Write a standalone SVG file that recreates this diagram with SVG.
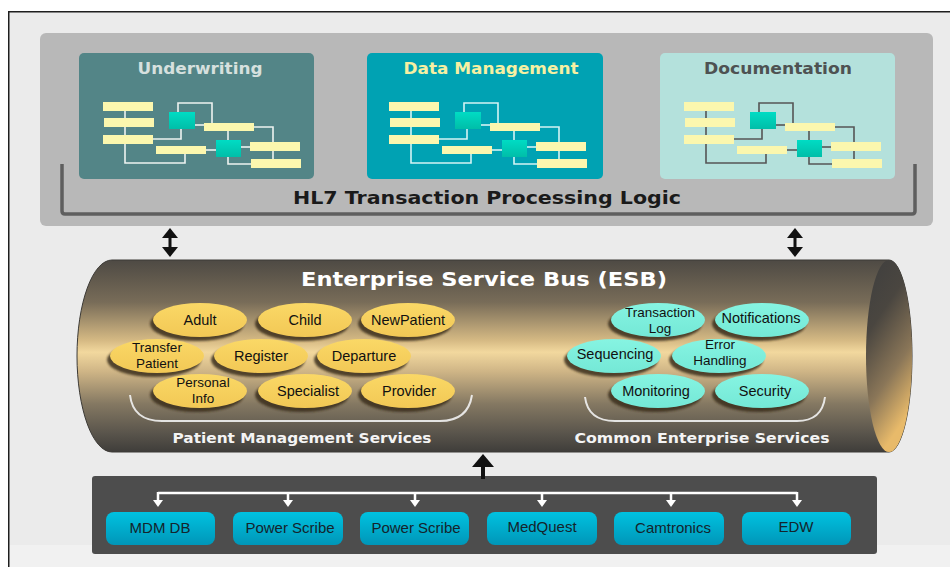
<svg xmlns="http://www.w3.org/2000/svg" xmlns:xlink="http://www.w3.org/1999/xlink" width="950" height="567" viewBox="0 0 950 567">
  <style>
    .title { font-family: "DejaVu Sans", "Liberation Sans", sans-serif; font-weight: bold; text-anchor: middle; }
    .lbl { font-family: "Liberation Sans", Arial, sans-serif; font-size: 14.5px; fill: #111; text-anchor: middle; }
    .lbl2 { font-family: "Liberation Sans", Arial, sans-serif; font-size: 13.5px; fill: #111; text-anchor: middle; }
    .btn-lbl { font-family: "Liberation Sans", Arial, sans-serif; font-size: 15px; fill: #14242c; text-anchor: middle; }
    .bar { fill: #fbf7ae; stroke: none; }
    .sq { fill: url(#sqGrad); stroke: none; }
    .gold { fill: url(#goldGrad); }
    .aqua { fill: url(#aquaGrad); }
    .shadow { fill: #3a2e1c; opacity: 0.85; filter: url(#soft); }
    .btn { fill: url(#btnGrad); }
    .brace { fill: none; stroke: #f2f2f2; stroke-width: 2; opacity: 0.9; }
    .tree { fill: none; stroke: #ffffff; stroke-width: 2.5; }
  </style>
  <defs>
    <linearGradient id="bodyGrad" x1="0" y1="260" x2="0" y2="452" gradientUnits="userSpaceOnUse">
      <stop offset="0" stop-color="#4e4a44"/>
      <stop offset="0.22" stop-color="#786c58"/>
      <stop offset="0.42" stop-color="#d6ba84"/>
      <stop offset="0.48" stop-color="#f2d89e"/>
      <stop offset="0.58" stop-color="#cfb586"/>
      <stop offset="0.75" stop-color="#847862"/>
      <stop offset="0.9" stop-color="#5a554c"/>
      <stop offset="1" stop-color="#3f3d3a"/>
    </linearGradient>
    <linearGradient id="capGrad" x1="0" y1="0" x2="0.35" y2="1">
      <stop offset="0" stop-color="#3e3e3e"/>
      <stop offset="0.35" stop-color="#4a4640"/>
      <stop offset="0.7" stop-color="#8a7658"/>
      <stop offset="1" stop-color="#e8ba6a"/>
    </linearGradient>
    <linearGradient id="goldGrad" x1="0" y1="0" x2="0" y2="1">
      <stop offset="0" stop-color="#fad866"/>
      <stop offset="1" stop-color="#f2c855"/>
    </linearGradient>
    <linearGradient id="aquaGrad" x1="0" y1="0" x2="0" y2="1">
      <stop offset="0" stop-color="#86f4e2"/>
      <stop offset="1" stop-color="#74e8d6"/>
    </linearGradient>
    <linearGradient id="sqGrad" x1="0" y1="0" x2="0" y2="1">
      <stop offset="0" stop-color="#00dcc4"/>
      <stop offset="1" stop-color="#00bea8"/>
    </linearGradient>
    <linearGradient id="btnGrad" x1="0" y1="0" x2="0" y2="1">
      <stop offset="0" stop-color="#00c2e0"/>
      <stop offset="1" stop-color="#0096b8"/>
    </linearGradient>
    <filter id="soft" x="-10%" y="-20%" width="120%" height="140%">
      <feGaussianBlur stdDeviation="1.2"/>
    </filter>
    <!-- small flow chart used inside each top box; line colour comes from the <use> -->
    <g id="flow">
      <g fill="none" stroke-width="1.6">
        <path d="M125,106 V163 H185 V154"/>
        <path d="M153,139 H181 V129"/>
        <path d="M178,112 V103 H212 V123"/>
        <path d="M195,125 H204"/>
        <path d="M228,131 V140"/>
        <path d="M254,127 H273 V164"/>
        <path d="M228,157 V164 H251"/>
        <path d="M206,150 H216"/>
        <path d="M241,147 H250"/>
      </g>
      <rect class="bar" x="103" y="102" width="50" height="9"/>
      <rect class="bar" x="104" y="118" width="50" height="9"/>
      <rect class="bar" x="103" y="135" width="50" height="9"/>
      <rect class="bar" x="156" y="146" width="50" height="8"/>
      <rect class="bar" x="204" y="123" width="50" height="8"/>
      <rect class="bar" x="250" y="142" width="50" height="9"/>
      <rect class="bar" x="251" y="159" width="50" height="9"/>
      <rect class="sq" x="169" y="112" width="26" height="17"/>
      <rect class="sq" x="216" y="140" width="25" height="17"/>
    </g>
  </defs>

  <!-- page and frame -->
  <rect x="0" y="0" width="950" height="567" fill="#ffffff"/>
  <rect x="8" y="11" width="942" height="556" fill="#ebebeb"/>
  <rect x="8" y="545" width="942" height="22" fill="#f1f1f1"/>
  <path d="M8.75,567 V11.75 H950" fill="none" stroke="#1e1e1e" stroke-width="1.5"/>

  <!-- HL7 transaction processing layer -->
  <g id="hl7-layer">
    <rect x="40" y="33" width="893" height="193" rx="6" fill="#b8b8b8"/>
    <path d="M62,164 V211 Q62,214 65,214 H912 Q915,214 915,211 V164" fill="none" stroke="#5e5e5e" stroke-width="3.5"/>
    <text class="title" x="487" y="204" font-size="18" fill="#1a1a1a" textLength="388" lengthAdjust="spacingAndGlyphs">HL7 Transaction Processing Logic</text>
  </g>

  <g id="underwriting">
    <rect x="79" y="53" width="235" height="126" rx="5" fill="#538587"/>
    <text class="title" x="200" y="74" font-size="15.5" fill="#d6e0de" textLength="125" lengthAdjust="spacingAndGlyphs">Underwriting</text>
    <use xlink:href="#flow" stroke="#eef3f1"/>
  </g>

  <g id="data-management">
    <rect x="367" y="53" width="236" height="126" rx="5" fill="#00a2b3"/>
    <text class="title" x="491" y="74" font-size="15.5" fill="#f6f0a2" textLength="175" lengthAdjust="spacingAndGlyphs">Data Management</text>
    <use xlink:href="#flow" transform="translate(286,0)" stroke="#d4f4f4"/>
  </g>

  <g id="documentation">
    <rect x="660" y="53" width="235" height="126" rx="5" fill="#b4e1dc"/>
    <text class="title" x="778" y="74" font-size="15.5" fill="#4e5252" textLength="148" lengthAdjust="spacingAndGlyphs">Documentation</text>
    <use xlink:href="#flow" transform="translate(581,0)" stroke="#555555"/>
  </g>

  <!-- enterprise service bus -->
  <g id="esb">
    <path d="M112,260 H889 A23,96 0 0 1 889,452 H112 A35,96 0 0 1 112,260 Z" fill="url(#bodyGrad)" stroke="#3c3a36" stroke-width="1"/>
    <ellipse cx="889" cy="356" rx="23" ry="96" fill="url(#capGrad)"/>
    <text class="title" x="484" y="286" font-size="19.5" fill="#ffffff" textLength="366" lengthAdjust="spacingAndGlyphs">Enterprise Service Bus (ESB)</text>
  </g>

  <!-- patient management services -->
  <g id="patient-services">
    <g id="svc-adult"><ellipse class="shadow" cx="197" cy="324" rx="47" ry="17"/><ellipse class="gold" cx="200" cy="320" rx="47" ry="17"/><text class="lbl" x="200" y="325">Adult</text></g>
    <g id="svc-child"><ellipse class="shadow" cx="302" cy="324" rx="47" ry="17"/><ellipse class="gold" cx="305" cy="320" rx="47" ry="17"/><text class="lbl" x="305" y="325">Child</text></g>
    <g id="svc-newpatient"><ellipse class="shadow" cx="405" cy="324" rx="47" ry="17"/><ellipse class="gold" cx="408" cy="320" rx="47" ry="17"/><text class="lbl" x="408" y="325">NewPatient</text></g>
    <g id="svc-transfer"><ellipse class="shadow" cx="154" cy="360" rx="47" ry="17"/><ellipse class="gold" cx="157" cy="356" rx="47" ry="17"/><text class="lbl2" x="157" y="352">Transfer</text><text class="lbl2" x="157" y="367.5">Patient</text></g>
    <g id="svc-register"><ellipse class="shadow" cx="258" cy="360" rx="47" ry="17"/><ellipse class="gold" cx="261" cy="356" rx="47" ry="17"/><text class="lbl" x="261" y="361">Register</text></g>
    <g id="svc-departure"><ellipse class="shadow" cx="361" cy="360" rx="47" ry="17"/><ellipse class="gold" cx="364" cy="356" rx="47" ry="17"/><text class="lbl" x="364" y="361">Departure</text></g>
    <g id="svc-personal"><ellipse class="shadow" cx="197" cy="395" rx="47" ry="17"/><ellipse class="gold" cx="200" cy="391" rx="47" ry="17"/><text class="lbl2" x="203" y="387">Personal</text><text class="lbl2" x="203" y="402.5">Info</text></g>
    <g id="svc-specialist"><ellipse class="shadow" cx="302" cy="395" rx="47" ry="17"/><ellipse class="gold" cx="305" cy="391" rx="47" ry="17"/><text class="lbl" x="308" y="396">Specialist</text></g>
    <g id="svc-provider"><ellipse class="shadow" cx="405" cy="395" rx="47" ry="17"/><ellipse class="gold" cx="408" cy="391" rx="47" ry="17"/><text class="lbl" x="409" y="396">Provider</text></g>
    <path class="brace" d="M130,395 Q133,421 162,421 H440 Q468,421 472,395"/>
    <text class="title" x="302" y="443" font-size="14" fill="#f4f4f4" textLength="259" lengthAdjust="spacingAndGlyphs">Patient Management Services</text>
  </g>

  <!-- common enterprise services -->
  <g id="common-services">
    <g id="svc-txlog"><ellipse class="shadow" cx="655" cy="324" rx="47" ry="17"/><ellipse class="aqua" cx="658" cy="320" rx="47" ry="17"/><text class="lbl2" x="660" y="317">Transaction</text><text class="lbl2" x="660" y="332.5">Log</text></g>
    <g id="svc-notifications"><ellipse class="shadow" cx="759" cy="324" rx="47" ry="17"/><ellipse class="aqua" cx="762" cy="320" rx="47" ry="17"/><text class="lbl" x="761" y="323">Notifications</text></g>
    <g id="svc-sequencing"><ellipse class="shadow" cx="611" cy="360" rx="47" ry="17"/><ellipse class="aqua" cx="614" cy="356" rx="47" ry="17"/><text class="lbl" x="615" y="359">Sequencing</text></g>
    <g id="svc-error"><ellipse class="shadow" cx="716" cy="360" rx="47" ry="17"/><ellipse class="aqua" cx="719" cy="356" rx="47" ry="17"/><text class="lbl2" x="720" y="349">Error</text><text class="lbl2" x="720" y="364.5">Handling</text></g>
    <g id="svc-monitoring"><ellipse class="shadow" cx="655" cy="395" rx="47" ry="17"/><ellipse class="aqua" cx="658" cy="391" rx="47" ry="17"/><text class="lbl" x="656" y="396">Monitoring</text></g>
    <g id="svc-security"><ellipse class="shadow" cx="759" cy="395" rx="47" ry="17"/><ellipse class="aqua" cx="762" cy="391" rx="47" ry="17"/><text class="lbl" x="765" y="396">Security</text></g>
    <path class="brace" d="M585,397 Q588,421 615,421 H797 Q822,421 825,397"/>
    <text class="title" x="702" y="443" font-size="14" fill="#f4f4f4" textLength="255" lengthAdjust="spacingAndGlyphs">Common Enterprise Services</text>
  </g>

  <!-- data sources -->
  <g id="sources">
    <rect x="92" y="476" width="785" height="78" rx="3" fill="#4d4d4d"/>
  </g>
  <g id="src-mdm"><rect class="btn" x="106" y="512" width="109" height="33" rx="8"/><text class="btn-lbl" x="160" y="533">MDM DB</text></g>
  <g id="src-powerscribe-1"><rect class="btn" x="233" y="512" width="110" height="33" rx="8"/><text class="btn-lbl" x="290" y="533">Power Scribe</text></g>
  <g id="src-powerscribe-2"><rect class="btn" x="360" y="512" width="109" height="33" rx="8"/><text class="btn-lbl" x="416" y="533">Power Scribe</text></g>
  <g id="src-medquest"><rect class="btn" x="487" y="512" width="110" height="33" rx="8"/><text class="btn-lbl" x="542" y="532">MedQuest</text></g>
  <g id="src-camtronics"><rect class="btn" x="614" y="512" width="110" height="33" rx="8"/><text class="btn-lbl" x="673" y="533">Camtronics</text></g>
  <g id="src-edw"><rect class="btn" x="742" y="512" width="109" height="33" rx="8"/><text class="btn-lbl" x="796" y="532">EDW</text></g>

  <!-- connectors -->
  <g id="connectors">
    <path class="tree" d="M158,493 H797 M158,492 V502 M288,492 V502 M415,492 V502 M542,492 V502 M671,492 V502 M797,492 V502"/>
    <g fill="#ffffff">
      <polygon points="153,500 163,500 158,507"/>
      <polygon points="283,500 293,500 288,507"/>
      <polygon points="410,500 420,500 415,507"/>
      <polygon points="537,500 547,500 542,507"/>
      <polygon points="666,500 676,500 671,507"/>
      <polygon points="792,500 802,500 797,507"/>
    </g>
    <g fill="#111111">
      <rect x="168.5" y="235" width="3" height="15"/>
      <polygon points="162,238 170,228 178,238"/>
      <polygon points="162,247 170,257 178,247"/>
      <rect x="793.5" y="235" width="3" height="15"/>
      <polygon points="787,238 795,228 803,238"/>
      <polygon points="787,247 795,257 803,247"/>
      <rect x="481" y="464" width="4" height="15"/>
      <polygon points="472,467 483,454 494,467"/>
    </g>
  </g>
</svg>
